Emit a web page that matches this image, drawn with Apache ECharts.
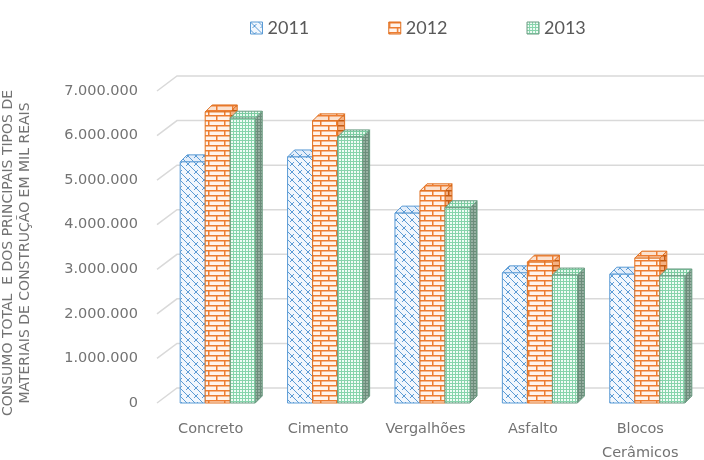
<!DOCTYPE html>
<html>
<head>
<meta charset="utf-8">
<script src="https://cdn.jsdelivr.net/npm/echarts@6/dist/echarts.min.js"></script>
<style>
  html, body { margin: 0; padding: 0; background: #fff; }
  #chart { width: 704px; height: 460px; }
</style>
</head>
<body>
<div id="chart"></div>
<script>
// Consumo por tipo de material (mil reais)
const categories = ['Concreto', 'Cimento', 'Vergalhões', 'Asfalto', 'Blocos\nCerâmicos'];
const years = ['2011', '2012', '2013'];
const v2011 = [5410000, 5520000, 4260000, 2920000, 2890000];
const v2012 = [6530000, 6330000, 4760000, 3160000, 3250000];
const v2013 = [6390000, 5970000, 4380000, 2870000, 2850000];
const yTicks = [0, 1000000, 2000000, 3000000, 4000000, 5000000, 6000000, 7000000];

// --- fill patterns -------------------------------------------------------
function tile(w, h, draw) {
  const c = document.createElement('canvas');
  c.width = w; c.height = h;
  draw(c.getContext('2d'), w, h);
  return c;
}
function pat(canvas) { return { image: canvas, repeat: 'repeat' }; }

// diagonal weave
function weave(bg, fg) {
  return tile(8, 8, (ctx, w, h) => {
    ctx.fillStyle = bg; ctx.fillRect(0, 0, w, h);
    ctx.strokeStyle = fg; ctx.lineWidth = 1;
    ctx.beginPath();
    ctx.moveTo(-1, -1); ctx.lineTo(9, 9);
    ctx.moveTo(-1, 7); ctx.lineTo(1, 9);
    ctx.moveTo(7, -1); ctx.lineTo(9, 1);
    ctx.moveTo(2, 6); ctx.lineTo(6, 2);
    ctx.stroke();
  });
}
// brick
function brick(bg, fg) {
  return tile(16, 10, (ctx, w, h) => {
    ctx.fillStyle = bg; ctx.fillRect(0, 0, w, h);
    ctx.fillStyle = fg;
    ctx.fillRect(0, 0, w, 1.5);
    ctx.fillRect(0, 5, w, 1.5);
    ctx.fillRect(0, 0, 1.5, 5);
    ctx.fillRect(8, 5, 1.5, 5);
  });
}
// small dots
function dots(bg, fg) {
  return tile(3, 3, (ctx, w, h) => {
    ctx.fillStyle = bg; ctx.fillRect(0, 0, w, h);
    ctx.fillStyle = fg; ctx.fillRect(0, 0, 2, 2);
  });
}

const styles = [
  { front: pat(weave('#f2f7fd', '#5b9bd5')), side: pat(weave('#c9dcf0', '#3f7fbf')),
    top: pat(weave('#e4eefa', '#5b9bd5')), stroke: '#5b9bd5' },
  { front: pat(brick('#fff4ec', '#ed7d31')), side: pat(brick('#f4b183', '#c55a11')),
    top: pat(brick('#fbe2d0', '#ed7d31')), stroke: '#e07020' },
  { front: pat(dots('#86d4ab', '#f0fcf6')), side: pat(dots('#6c8d7b', '#97b0a2')),
    top: pat(dots('#7ccba1', '#e6f8ee')), stroke: '#6a9c82' }
];

const DX = 7, DY = -7;

function barRenderer(idx) {
  const st = styles[idx];
  return function (params, api) {
    const cat = api.value(0), val = api.value(1);
    const base = api.coord([cat, 0]);
    const tip = api.coord([cat, val]);
    const bw = api.size([1, 0])[0] * 0.233;
    const x0 = base[0] + (idx - 1.5) * bw;
    const x1 = x0 + bw;
    const yt = tip[1], yb = base[1];
    const common = { lineWidth: 1, stroke: st.stroke };
    return {
      type: 'group',
      children: [
        { type: 'polygon', shape: { points: [[x1, yt], [x1 + DX, yt + DY], [x1 + DX, yb + DY], [x1, yb]] },
          style: Object.assign({ fill: st.side }, common) },
        { type: 'polygon', shape: { points: [[x0, yt], [x1, yt], [x1 + DX, yt + DY], [x0 + DX, yt + DY]] },
          style: Object.assign({ fill: st.top }, common) },
        { type: 'rect', shape: { x: x0, y: yt, width: bw, height: yb - yt },
          style: Object.assign({ fill: st.front }, common) }
      ]
    };
  };
}

// back-wall gridlines with the short oblique floor/wall segment
function gridRenderer(params, api) {
  const cs = params.coordSys;
  const y = api.coord([0, api.value(1)])[1];
  return {
    type: 'polyline',
    shape: { points: [[cs.x - 7, y], [cs.x + 13, y - 15], [cs.x + cs.width + 4, y - 15]] },
    style: { stroke: '#d9d9d9', lineWidth: 1.5, fill: null }
  };
}

function fmt(v) { return String(v).replace(/\B(?=(\d{3})+(?!\d))/g, '.'); }

const seriesValues = [v2011, v2012, v2013];
const series = [{
  type: 'custom', name: 'grid', silent: true, z: 1,
  renderItem: gridRenderer,
  data: yTicks.map(v => [0, v])
}];
years.forEach((y, i) => {
  series.push({
    type: 'custom', name: y, z: 2 + i,
    renderItem: barRenderer(i),
    itemStyle: { color: styles[i].front },
    data: seriesValues[i].map((v, k) => [k, v])
  });
});

const chart = echarts.init(document.getElementById('chart'), null, { renderer: 'canvas' });
chart.setOption({
  animation: false,
  grid: { left: 164, right: 3, top: 91, bottom: 57, containLabel: false, outerBoundsMode: 'none' },
  legend: {
    top: 14, left: 245, itemGap: 79, itemWidth: 12, itemHeight: 12,
    textStyle: { fontFamily: 'Lato', fontSize: 18, color: '#595959' },
    data: years.map((y, i) => ({
      name: y, icon: 'rect',
      itemStyle: { color: styles[i].front, borderColor: styles[i].stroke, borderWidth: 1 }
    }))
  },
  xAxis: {
    type: 'category', data: categories,
    axisLine: { show: false }, axisTick: { show: false },
    axisLabel: {
      margin: 14, color: '#737373', fontFamily: 'DejaVu Sans', fontSize: 14.5,
      lineHeight: 24, padding: [0, 14, 0, 0]
    }
  },
  yAxis: {
    type: 'value', min: 0, max: 7000000, interval: 1000000,
    axisLine: { show: false }, axisTick: { show: false }, splitLine: { show: false },
    axisLabel: { margin: 26, color: '#737373', fontFamily: 'DejaVu Sans', fontSize: 14.5, formatter: fmt }
  },
  graphic: [{
    type: 'text', x: 17, y: 253, rotation: Math.PI / 2,
    style: {
      text: 'CONSUMO TOTAL  E DOS PRINCIPAIS TIPOS DE\nMATERIAIS DE CONSTRUÇÃO EM MIL REAIS',
      align: 'center', verticalAlign: 'middle', lineHeight: 16.5,
      font: '14px "DejaVu Sans"', fill: '#737373'
    }
  }],
  series: series
});
</script>
</body>
</html>
